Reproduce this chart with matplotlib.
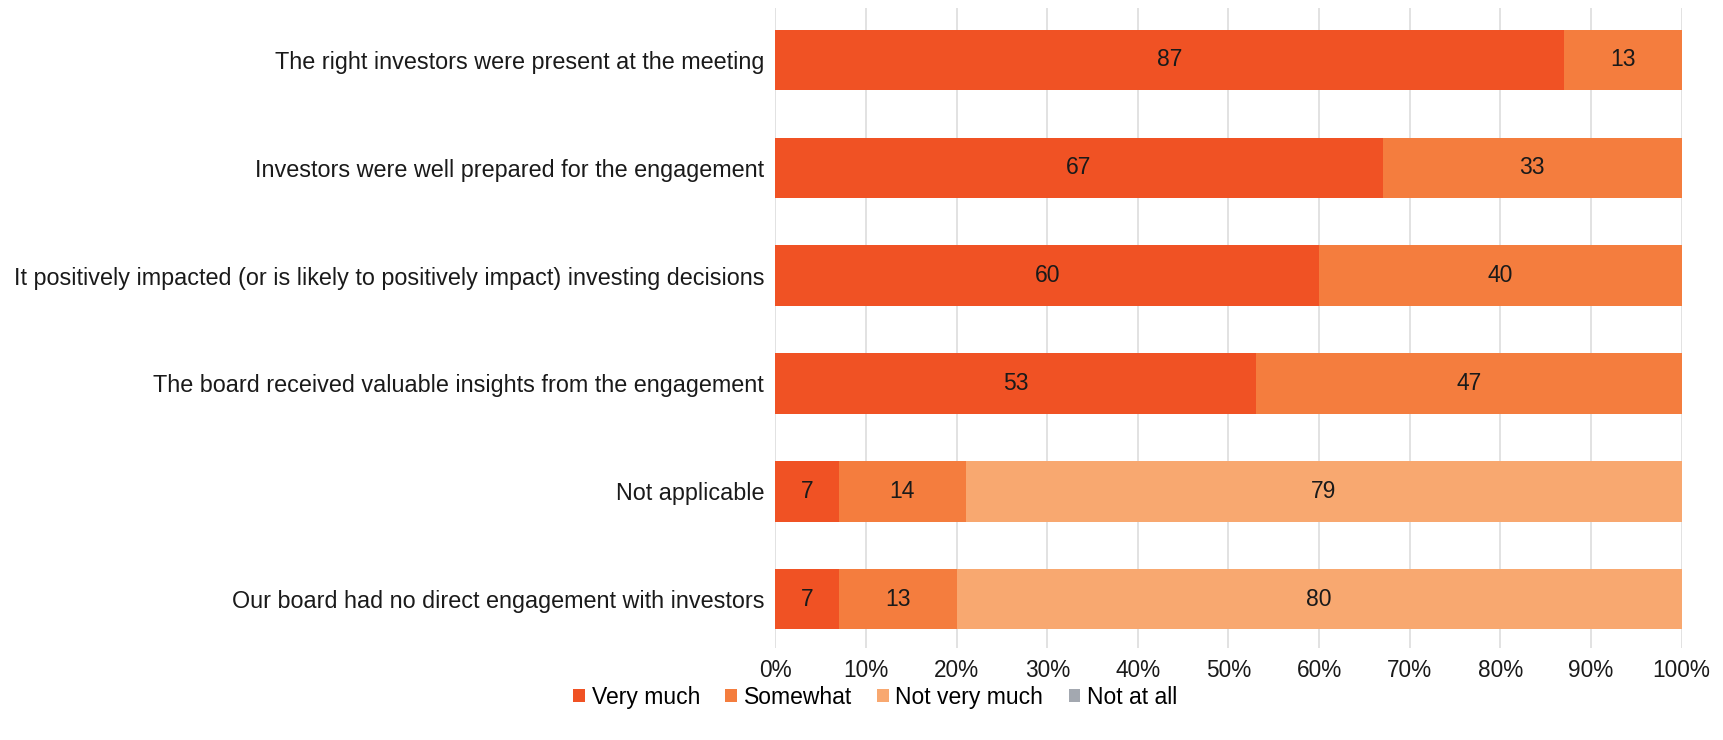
import matplotlib.pyplot as plt
from matplotlib.ticker import PercentFormatter

plt.rcParams['font.family'] = ['Liberation Sans', 'DejaVu Sans']

categories = [
    "The right investors were present at the meeting",
    "Investors were well prepared for the engagement",
    "It positively impacted (or is likely to positively impact) investing decisions",
    "The board received valuable insights from the engagement",
    "Not applicable",
    "Our board had no direct engagement with investors",
]
very_much = [87, 67, 60, 53, 7, 7]
somewhat = [13, 33, 40, 47, 14, 13]
not_very_much = [0, 0, 0, 0, 79, 80]
not_at_all = [0, 0, 0, 0, 0, 0]

series = [
    ("Very much", very_much, "#F05224"),
    ("Somewhat", somewhat, "#F47D3E"),
    ("Not very much", not_very_much, "#F8A870"),
    ("Not at all", not_at_all, "#A3A8B0"),
]

fig = plt.figure(figsize=(17.23, 7.4), dpi=100)
ax = fig.add_axes([0.450, 0.124, 0.526, 0.865])

y = range(len(categories))
left = [0] * len(categories)
for name, vals, color in series:
    bars = ax.barh(y, vals, left=left, height=0.56, color=color, label=name, zorder=2)
    for b, v in zip(bars, vals):
        if v > 0:
            ax.text(b.get_x() + b.get_width() / 2, b.get_y() + b.get_height() / 2,
                    str(v), ha="center", va="center", fontsize=16.5, color="#1a1a1a")
    left = [l + v for l, v in zip(left, vals)]

ax.set_yticks(list(y))
ax.set_yticklabels(categories, fontsize=16.8, color="#1a1a1a")
ax.set_ylim(5.455, -0.48)
ax.set_xlim(0, 100)
ax.set_xticks(range(0, 101, 10))
ax.xaxis.set_major_formatter(PercentFormatter(decimals=0))
ax.tick_params(axis="x", length=0, labelsize=16.3, labelcolor="#1a1a1a", pad=8)
ax.tick_params(axis="y", length=0, pad=8)
ax.grid(axis="x", color="#DDDDDD", linewidth=1.2, zorder=0)
for s in ax.spines.values():
    s.set_visible(False)

fig.legend(loc="center", bbox_to_anchor=(0.508, 0.058), ncol=4, frameon=False,
           fontsize=16.5, handlelength=0.5, handleheight=0.5, handletextpad=0.3,
           columnspacing=1.1)

plt.savefig("out.png", dpi=100)
